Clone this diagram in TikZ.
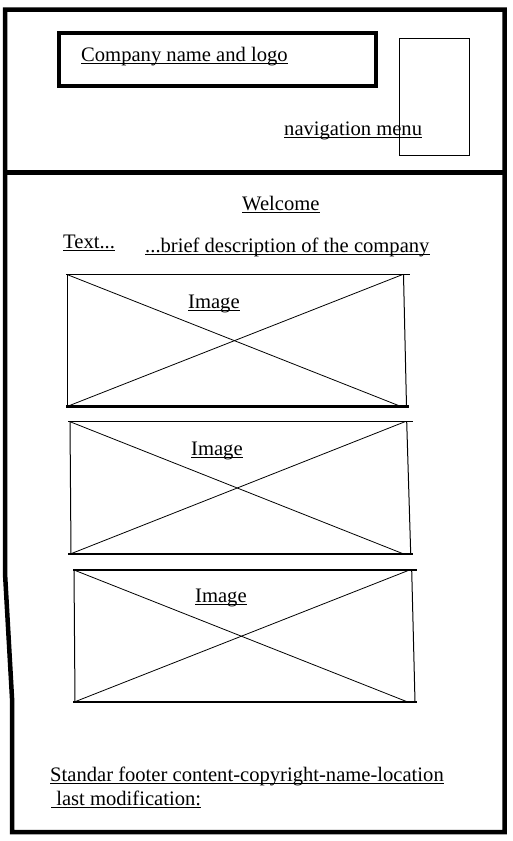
\documentclass[tikz,border=0pt]{standalone}
\usepackage{fontspec}
\setmainfont{Liberation Serif}
\newcommand\lblfont{\fontsize{20.6}{24}\selectfont}
\begin{document}
\begin{tikzpicture}[x=1pt,y=-1pt,
  frame/.style={line width=4.5pt, line join=miter},
  logobox/.style={line width=4pt},
  thinbox/.style={line width=0.8pt},
  imgtop/.style={line width=1.2pt},
  imgbot/.style={line width=2.2pt},
  imgside/.style={line width=1pt},
  imgdiag/.style={line width=0.8pt},
  lbl/.style={font=\lblfont, inner sep=0pt, anchor=base west},
  uline/.style={line width=0.9pt}]
\useasboundingbox (0,0) rectangle (513,841);

% page frame and header separator
\draw[frame] (5,9.5) -- (504.5,9.5) -- (504.5,832) -- (12,832) -- (12,698) -- (5,573) -- cycle;
\draw[frame] (5,172.5) -- (504.5,172.5);

% header: logo block and navigation menu
\draw[logobox] (59,33) rectangle (376,86);
\node[lbl] (company) at (81,61) {Company name and logo};
\node[lbl] (nav) at (284,135) {navigation menu};
\draw[thinbox] (399,38) rectangle (469,155);

% intro text
\node[lbl] (welcome) at (242,210) {Welcome};
\node[lbl] (textlbl) at (63,248) {Text...};
\node[lbl] (desc) at (145,252) {...brief description of the company};

% image placeholder 1
\coordinate (a1) at (67,274.5);   \coordinate (b1) at (67,406.5);
\coordinate (c1) at (403.5,274.5); \coordinate (d1) at (406.5,406.5);
\draw[imgtop] (66,274.5) -- (410,274.5);
\draw[imgbot] (66,406.5) -- (409,406.5);
\draw[imgside] (a1) -- (b1);
\draw[imgside] (c1) -- (d1);
\draw[imgdiag] (a1) -- (401,406.5);
\draw[imgdiag] (b1) -- (402.7,274.5);
\node[lbl] (img1) at (188,308) {Image};

% image placeholder 2
\coordinate (a2) at (70,421.7);   \coordinate (b2) at (71,553.7);
\coordinate (c2) at (406.7,421.7); \coordinate (d2) at (410.7,553.7);
\draw[imgtop] (68,421.7) -- (413,421.7);
\draw[imgbot] (68,553.7) -- (413,553.7);
\draw[imgside] (a2) -- (b2);
\draw[imgside] (c2) -- (d2);
\draw[imgdiag] (a2) -- (403,553.7);
\draw[imgdiag] (b2) -- (405,421.7);
\node[lbl] (img2) at (191,455) {Image};

% image placeholder 3
\coordinate (a3) at (74,570);   \coordinate (b3) at (75,701.7);
\coordinate (c3) at (411.7,570); \coordinate (d3) at (415,701.7);
\draw[imgtop] (73,570) -- (417,570);
\draw[imgbot] (73,701.7) -- (417,701.7);
\draw[imgside] (a3) -- (b3);
\draw[imgside] (c3) -- (d3);
\draw[imgdiag] (a3) -- (407,701.7);
\draw[imgdiag] (b3) -- (409.5,570);
\node[lbl] (img3) at (195,602.7) {Image};

% footer
\node[lbl] (foot1) at (50,781.7) {Standar footer content-copyright-name-location};
\node[lbl] (foot2) at (51,805) {\ last modification:};

% underlines for every label
\foreach \n in {company,nav,welcome,textlbl,desc,img1,img2,img3,foot1,foot2}
  \draw[uline] ([yshift=-2.2pt]\n.base west) -- ([yshift=-2.2pt]\n.base east);
\end{tikzpicture}
\end{document}
